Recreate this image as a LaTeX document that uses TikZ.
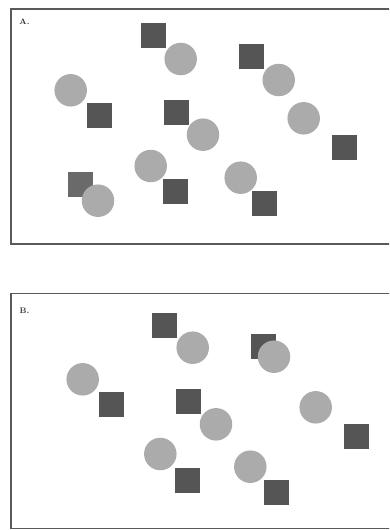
\documentclass[tikz,border=0pt]{standalone}
\usetikzlibrary{positioning}
\definecolor{sqgray}{HTML}{555555}
\definecolor{sqlight}{HTML}{6A6A6A}
\definecolor{cirgray}{HTML}{ABABAB}
\definecolor{framegray}{HTML}{5A5A5A}
\tikzset{
  panel/.style={draw=framegray, line width=1.4pt},
  sq/.style={rectangle, fill=sqgray, minimum size=25pt, inner sep=0pt},
  sqpale/.style={sq, fill=sqlight},
  circ/.style={circle, fill=cirgray, minimum size=32.5pt, inner sep=0pt},
  tag/.style={font=\fontsize{8}{9}\selectfont\bfseries, inner sep=0pt, text=black!80},
}

\begin{document}
\begin{tikzpicture}[x=1pt, y=-1pt]
\clip (0,0) rectangle (389,530);

% ── Panel A ────────────────────────────────────────────────
\draw[panel] (11,9) rectangle (395,244);
\node[tag] (labA) at (24.5,22) {A.};

\node[sq] (a1) at (153,35.5) {};
\node[sq] (a2) at (251.5,56.5) {};
\node[sq] (a3) at (99.8,115.8) {};
\node[sq] (a4) at (176.5,112.5) {};
\node[sq] (a5) at (344.2,147) {};
\node[sq] (a6) at (175.5,191.7) {};
\node[sq] (a7) at (264.5,203.5) {};
\node[sqpale] (a8) at (80,184.5) {};

\node[circ] (ca1) at (180.7,59) {};
\node[circ] (ca2) at (278.7,80) {};
\node[circ] (ca3) at (70.7,90.3) {};
\node[circ] (ca4) at (203,134.7) {};
\node[circ] (ca5) at (303.7,118.3) {};
\node[circ] (ca6) at (150.7,166) {};
\node[circ] (ca7) at (240.7,177.7) {};
\node[circ] (ca8) at (98,200.7) {};

% ── Panel B ────────────────────────────────────────────────
\draw[panel] (11,293.5) rectangle (395,528.5);
\node[tag] (labB) at (24.5,310.7) {B.};

\node[sq] (b1) at (164.8,325.2) {};
\node[sq] (b2) at (263.2,346) {};
\node[sq] (b3) at (111.7,404.8) {};
\node[sq] (b4) at (188.5,401.5) {};
\node[sq] (b5) at (356.5,436.2) {};
\node[sq] (b6) at (187.5,480.5) {};
\node[sq] (b7) at (276.8,492.5) {};

\node[circ] (cb1) at (192.7,347.7) {};
\node[circ] (cb2) at (274,356.7) {};
\node[circ] (cb3) at (82.7,379.3) {};
\node[circ] (cb4) at (216,424.3) {};
\node[circ] (cb5) at (315.7,407.3) {};
\node[circ] (cb6) at (160.3,454) {};
\node[circ] (cb7) at (250.3,466.7) {};

\end{tikzpicture}
\end{document}
